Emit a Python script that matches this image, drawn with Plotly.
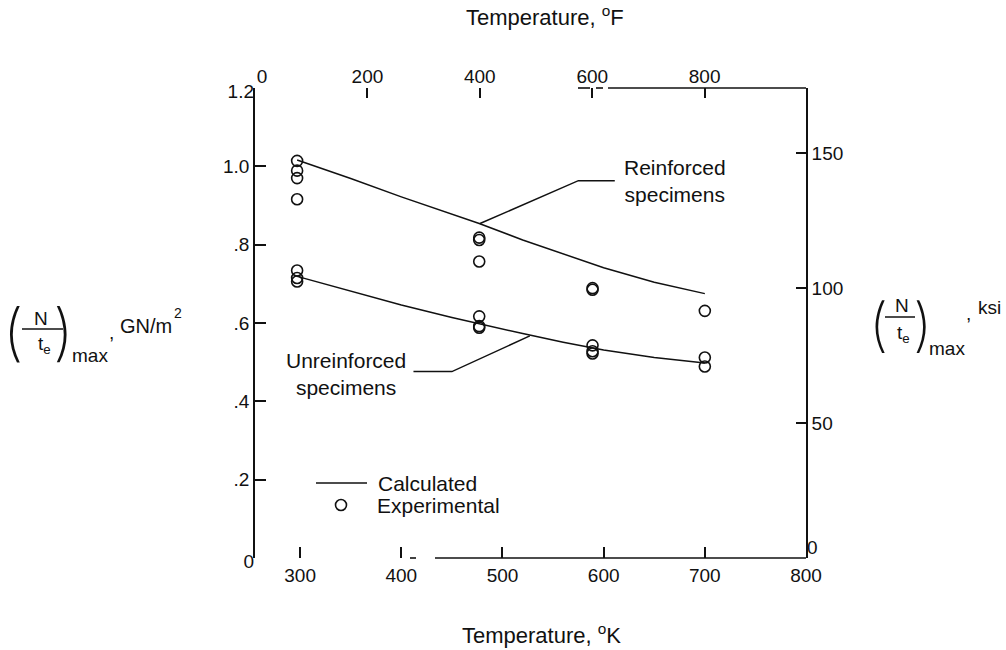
import plotly.graph_objects as go

# ---------------- data ----------------
# Experimental points: temperature (K) and (N/te)max (GN/m^2)
reinf_exp_T = [297, 297, 297, 297, 477, 477, 477, 589, 589, 700]
reinf_exp_v = [1.014, 0.989, 0.970, 0.916, 0.818, 0.812, 0.757, 0.689, 0.685, 0.631]
unreinf_exp_T = [297, 297, 297, 477, 477, 477, 589, 589, 589, 700, 700]
unreinf_exp_v = [0.734, 0.715, 0.706, 0.617, 0.592, 0.588, 0.543, 0.528, 0.522, 0.512, 0.489]

# Calculated curves
calc_T = [297, 350, 400, 450, 477, 520, 560, 600, 650, 700]
calc_reinf_v = [1.016, 0.969, 0.922, 0.877, 0.854, 0.812, 0.776, 0.741, 0.704, 0.675]
calc_unreinf_v = [0.719, 0.681, 0.646, 0.614, 0.598, 0.573, 0.551, 0.531, 0.512, 0.498]

# Axis ticks
k_ticks = [300, 400, 500, 600, 700, 800]
f_ticks = [200, 400, 600, 800]
f_zero = [0]
gn_ticks = [0.2, 0.4, 0.6, 0.8, 1.0]
gn_tick_text = [".2", ".4", ".6", ".8", "1.0"]
gn_end_ticks = [0, 1.2]
gn_end_text = ["0", "1.2"]
ksi_ticks = [50, 100, 150]
ksi_zero = [0]

# ---------------- layout geometry ----------------
W, H = 1006, 650
L, R, T, B = 255, 200, 88, 92
PW, PH = W - L - R, H - T - B
K_MIN, K_MAX = 255.372, 800.0
GN_MAX = 1.2
F_MIN = (K_MIN - 273.15) * 1.8 + 32
F_MAX = (K_MAX - 273.15) * 1.8 + 32
KSI_MAX = GN_MAX / 0.00689476


def px(xp):
    return (xp - L) / PW


def py(yp):
    return (T + PH - yp) / PH


FONT = "Liberation Sans, Arial, sans-serif"
BLACK = "#111111"

fig = go.Figure()

fig.add_trace(go.Scatter(x=calc_T, y=calc_reinf_v, mode="lines",
                         line=dict(color=BLACK, width=1.5), showlegend=False))
fig.add_trace(go.Scatter(x=calc_T, y=calc_unreinf_v, mode="lines",
                         line=dict(color=BLACK, width=1.5), showlegend=False))
fig.add_trace(go.Scatter(x=reinf_exp_T, y=reinf_exp_v, mode="markers",
                         marker=dict(symbol="circle-open", size=11, color=BLACK,
                                     line=dict(width=1.6, color=BLACK)),
                         showlegend=False))
fig.add_trace(go.Scatter(x=unreinf_exp_T, y=unreinf_exp_v, mode="markers",
                         marker=dict(symbol="circle-open", size=11, color=BLACK,
                                     line=dict(width=1.6, color=BLACK)),
                         showlegend=False))
# empty traces to activate secondary axes
fig.add_trace(go.Scatter(x=[], y=[], xaxis="x2", yaxis="y2", showlegend=False))
fig.add_trace(go.Scatter(x=[], y=[], xaxis="x", yaxis="y3", showlegend=False))
fig.add_trace(go.Scatter(x=[], y=[], xaxis="x3", yaxis="y4", showlegend=False))

tickfont = dict(family=FONT, size=19, color=BLACK)
common = dict(showgrid=False, zeroline=False, tickfont=tickfont,
              tickcolor=BLACK, tickwidth=1.5)

fig.update_layout(
    width=W, height=H,
    margin=dict(l=L, r=R, t=T, b=B),
    paper_bgcolor="white", plot_bgcolor="white",
    showlegend=False,
    xaxis=dict(range=[K_MIN, K_MAX], tickmode="array", tickvals=k_ticks,
               ticks="inside", ticklen=11, showline=False,
               ticklabelstandoff=4, **common),
    xaxis2=dict(range=[F_MIN, F_MAX], overlaying="x", side="top", anchor="y",
                tickmode="array", tickvals=f_ticks, ticks="inside", ticklen=10,
                showline=False, **common),
    xaxis3=dict(range=[F_MIN, F_MAX], overlaying="x", side="top", anchor="y",
                tickmode="array", tickvals=f_zero, ticks="", ticklabelshift=7,
                showline=False, **common),
    yaxis=dict(range=[0, GN_MAX], tickmode="array", tickvals=gn_ticks,
               ticktext=gn_tick_text, ticks="inside", ticklen=11,
               showline=True, linecolor=BLACK, linewidth=1.6, **common),
    yaxis3=dict(range=[0, GN_MAX], overlaying="y", side="left", anchor="x",
                tickmode="array", tickvals=gn_end_ticks, ticktext=gn_end_text,
                ticks="", ticklabelshift=3, showline=False, **common),
    yaxis2=dict(range=[0, KSI_MAX], overlaying="y", side="right", anchor="x",
                tickmode="array", tickvals=ksi_ticks, ticks="inside",
                ticklen=10, showline=True, linecolor=BLACK, linewidth=1.6,
                **common),
    yaxis4=dict(range=[0, KSI_MAX], overlaying="y", side="right", anchor="x",
                tickmode="array", tickvals=ksi_zero, ticks="", ticklabelshift=-11,
                showline=False, **common),
)

shapes = []
# partial bottom and top axis lines (as in the scanned original)
for a, b in [(410, 416), (435, 806)]:
    shapes.append(dict(type="line", xref="paper", yref="paper", x0=px(a), x1=px(b),
                       y0=0, y1=0, line=dict(color=BLACK, width=1.6)))
for a, b in [(578, 590), (596, 603), (608, 806)]:
    shapes.append(dict(type="line", xref="paper", yref="paper", x0=px(a), x1=px(b),
                       y0=1, y1=1, line=dict(color=BLACK, width=1.6)))
# leader lines
shapes.append(dict(type="path", xref="x", yref="y",
                   path="M 477.8 0.854 L 575 0.9635 L 611 0.9635",
                   line=dict(color=BLACK, width=1.5)))
shapes.append(dict(type="path", xref="x", yref="y",
                   path="M 527 0.567 L 450 0.476 L 412 0.476",
                   line=dict(color=BLACK, width=1.5)))
# legend symbols
shapes.append(dict(type="line", xref="paper", yref="paper", x0=px(316), x1=px(367),
                   y0=py(483), y1=py(483), line=dict(color=BLACK, width=1.5)))
shapes.append(dict(type="circle", xref="paper", yref="paper",
                   x0=px(335.5), x1=px(346.5), y0=py(510.5), y1=py(499.5),
                   line=dict(color=BLACK, width=1.6)))
# fraction bars of axis titles
shapes.append(dict(type="line", xref="paper", yref="paper", x0=px(22), x1=px(63),
                   y0=py(329), y1=py(329), line=dict(color=BLACK, width=1.5)))
shapes.append(dict(type="line", xref="paper", yref="paper", x0=px(885), x1=px(915),
                   y0=py(317), y1=py(317), line=dict(color=BLACK, width=1.5)))
fig.update_layout(shapes=shapes)

ann = []


def txt(text, x, y, size=21, xanchor="center", yanchor="middle", family=FONT,
        weight=None, align="center"):
    f = dict(family=family, size=size, color=BLACK)
    if weight is not None:
        f["weight"] = weight
    ann.append(dict(text=text, x=px(x), y=py(y), xref="paper", yref="paper",
                    xanchor=xanchor, yanchor=yanchor, showarrow=False,
                    font=f, align=align))


txt("Temperature, <sup>o</sup>F", 545, 16, size=22)
txt("Temperature, <sup>o</sup>K", 541, 634, size=22)
txt("Reinforced<br>specimens", 675, 181, align="center")
txt("Unreinforced<br>specimens", 346, 374, align="center")
txt("Calculated", 376, 483, xanchor="left")
txt("Experimental", 375, 505, xanchor="left")

PAREN = "Inter, Liberation Sans, sans-serif"
# left axis title
txt("(", 13, 331, size=62, family=PAREN, weight=200)
txt("N", 41, 318, size=19)
txt("t<sub>e</sub>", 44, 345, size=19)
txt(")", 63, 331, size=62, family=PAREN, weight=200)
txt("max", 90, 355, size=19)
txt(",", 111, 332, size=19)
txt("GN/m", 146, 326, size=20)
txt("2", 178, 313, size=14)
# right axis title
txt("(", 878, 324, size=58, family=PAREN, weight=200)
txt("N", 902, 305, size=19)
txt("t<sub>e</sub>", 903, 334, size=19)
txt(")", 922, 324, size=58, family=PAREN, weight=200)
txt("max", 947, 348, size=19)
txt(",", 968, 313, size=19)
txt("ksi", 989, 307, size=19)

fig.update_layout(annotations=ann)

fig.write_html("out.html")
